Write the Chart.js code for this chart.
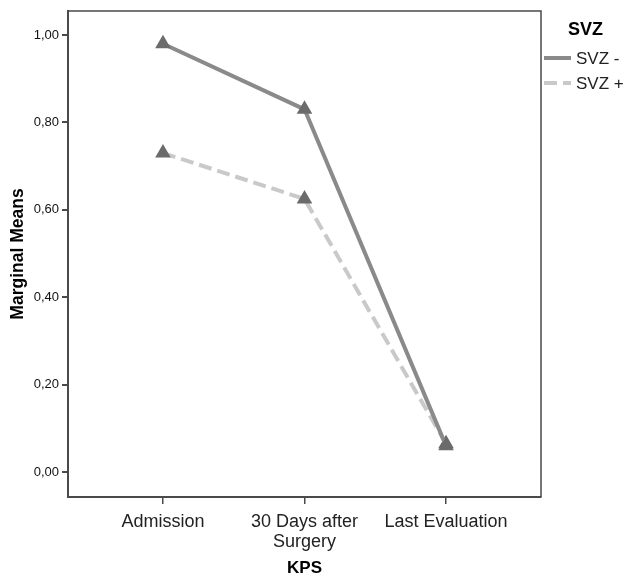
<!DOCTYPE html>
<html>
<head>
<meta charset="utf-8">
<script src="https://cdn.jsdelivr.net/npm/chart.js@4/dist/chart.umd.min.js"></script>
<style>
  html, body { margin: 0; padding: 0; background: #fff; }
  #wrap { width: 629px; height: 579px; }
</style>
</head>
<body>
<div id="wrap"><canvas id="kpsChart" width="629" height="579"></canvas></div>
<script>
// KPS marginal means by SVZ group
const categories = ['Admission', '30 Days after\nSurgery', 'Last Evaluation'];
const svzMinus = [0.98, 0.83, 0.06];
const svzPlus = [0.73, 0.625, 0.065];
const yTicks = [0, 0.2, 0.4, 0.6, 0.8, 1.0];
const seriesNames = ['SVZ -', 'SVZ +'];
const legendTitle = 'SVZ';

const FONT = '"Liberation Sans", Arial, sans-serif';
const FRAME = '#4a4a4a';

function toPoints(values) {
    return values.map((v, i) => ({ x: i, y: v }));
}

// top/right frame lines + legend at the right
const framePlugin = {
    id: 'frameAndLegend',
    afterDraw(chart) {
        const { ctx, chartArea: a } = chart;
        ctx.save();
        ctx.strokeStyle = FRAME;
        ctx.lineWidth = 1.5;
        ctx.beginPath();
        ctx.moveTo(a.left, a.top);
        ctx.lineTo(a.right, a.top);
        ctx.lineTo(a.right, a.bottom);
        ctx.stroke();

        ctx.fillStyle = '#000';
        ctx.textBaseline = 'middle';
        ctx.font = 'bold 18px ' + FONT;
        ctx.fillText(legendTitle, 568, 30);

        ctx.font = '17px ' + FONT;
        chart.data.datasets.forEach((ds, i) => {
            const y = 58 + i * 25;
            ctx.strokeStyle = ds.borderColor;
            ctx.lineWidth = ds.borderWidth;
            ctx.setLineDash(ds.borderDash || []);
            ctx.beginPath();
            ctx.moveTo(544, y);
            ctx.lineTo(571, y);
            ctx.stroke();
            ctx.setLineDash([]);
            ctx.fillStyle = '#222';
            ctx.fillText(ds.label, 576, y + 1);
        });
        ctx.restore();
    }
};

new Chart(document.getElementById('kpsChart').getContext('2d'), {
    type: 'line',
    data: {
        datasets: [{
            label: seriesNames[0],
            data: toPoints(svzMinus),
            borderColor: '#8a8a8a',
            borderWidth: 4,
            pointStyle: 'triangle',
            pointRadius: 9,
            pointBackgroundColor: '#6b6b6b',
            pointBorderColor: '#6b6b6b',
            pointBorderWidth: 0
        }, {
            label: seriesNames[1],
            data: toPoints(svzPlus),
            borderColor: '#c9c9c9',
            borderWidth: 4,
            borderDash: [13, 6],
            pointStyle: 'triangle',
            pointRadius: 9,
            pointBackgroundColor: '#6b6b6b',
            pointBorderColor: '#6b6b6b',
            pointBorderWidth: 0
        }]
    },
    options: {
        responsive: false,
        animation: false,
        layout: { padding: { top: 11, right: 88, left: 0, bottom: 0 } },
        plugins: { legend: { display: false }, tooltip: { enabled: false } },
        scales: {
            x: {
                type: 'linear',
                min: -0.671,
                max: 2.671,
                afterBuildTicks: s => { s.ticks = categories.map((c, i) => ({ value: i })); },
                afterFit: s => { s.height = 82; },
                grid: { display: true, drawOnChartArea: false, drawTicks: true, tickLength: 7, color: FRAME, lineWidth: 1.5 },
                border: { color: FRAME, width: 2 },
                ticks: {
                    autoSkip: false,
                    maxRotation: 0,
                    padding: 8,
                    color: '#222',
                    font: { family: FONT, size: 18, lineHeight: 1.1 },
                    callback: v => categories[v] ? categories[v].split('\n') : ''
                },
                title: {
                    display: true,
                    text: 'KPS',
                    color: '#000',
                    font: { family: FONT, size: 17, weight: 'bold' },
                    padding: { top: 0, bottom: 0 }
                }
            },
            y: {
                min: -0.057,
                max: 1.055,
                afterBuildTicks: s => { s.ticks = yTicks.map(v => ({ value: v })); },
                afterFit: s => { s.width = 68; },
                grid: { display: true, drawOnChartArea: false, drawTicks: true, tickLength: 6, color: FRAME, lineWidth: 2 },
                border: { color: FRAME, width: 2 },
                ticks: {
                    padding: 3,
                    color: '#111',
                    font: { family: FONT, size: 13 },
                    callback: v => v.toFixed(2).replace('.', ',')
                },
                title: {
                    display: true,
                    text: 'Marginal Means',
                    color: '#000',
                    font: { family: FONT, size: 17.5, weight: 'bold' },
                    padding: { top: 8, bottom: 0 }
                }
            }
        }
    },
    plugins: [framePlugin]
});
</script>
</body>
</html>
